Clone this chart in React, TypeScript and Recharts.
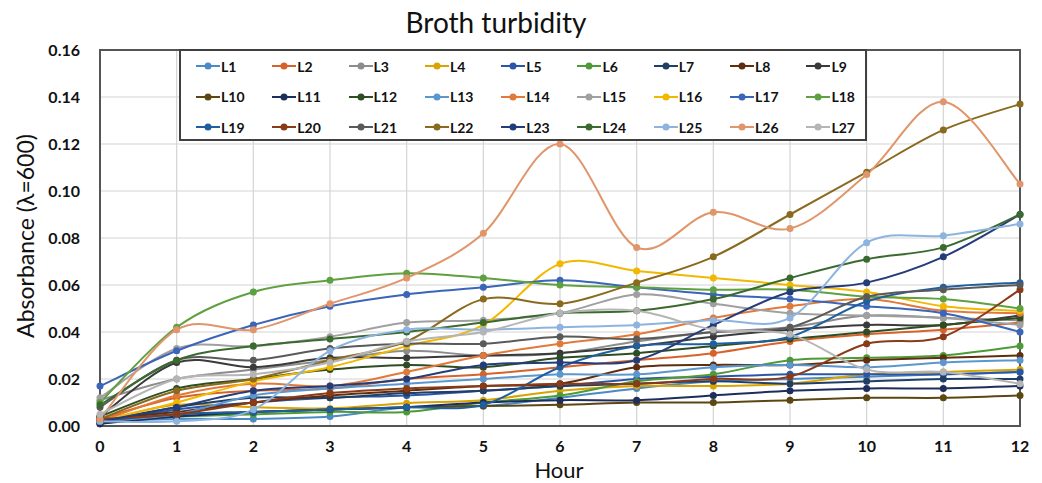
import React from 'react';
import { LineChart, Line, XAxis, YAxis, CartesianGrid, ReferenceArea } from 'recharts';

const hours = [0, 1, 2, 3, 4, 5, 6, 7, 8, 9, 10, 11, 12];
const yTicks = [0, 0.02, 0.04, 0.06, 0.08, 0.1, 0.12, 0.14, 0.16];

const L1 = [0.002, 0.003, 0.003, 0.004, 0.008, 0.0085, 0.012, 0.016, 0.019, 0.020, 0.021, 0.022, 0.023];
const L2 = [0.003, 0.012, 0.015, 0.016, 0.020, 0.022, 0.025, 0.028, 0.031, 0.036, 0.039, 0.041, 0.044];
const L3 = [0.011, 0.020, 0.024, 0.028, 0.032, 0.030, 0.031, 0.036, 0.040, 0.042, 0.047, 0.046, 0.045];
const L4 = [0.002, 0.009, 0.008, 0.0075, 0.0097, 0.011, 0.015, 0.017, 0.017, 0.018, 0.022, 0.023, 0.024];
const L5 = [0.001, 0.007, 0.010, 0.012, 0.013, 0.015, 0.017, 0.020, 0.021, 0.022, 0.022, 0.022, 0.023];
const L6 = [0.002, 0.004, 0.005, 0.006, 0.006, 0.010, 0.013, 0.019, 0.022, 0.028, 0.029, 0.030, 0.034];
const L7 = [0.002, 0.008, 0.012, 0.012, 0.014, 0.015, 0.017, 0.018, 0.019, 0.018, 0.019, 0.020, 0.020];
const L8 = [0.003, 0.006, 0.010, 0.013, 0.015, 0.017, 0.018, 0.025, 0.026, 0.026, 0.028, 0.029, 0.030];
const L9 = [0.004, 0.027, 0.025, 0.029, 0.029, 0.030, 0.031, 0.034, 0.038, 0.041, 0.043, 0.043, 0.047];
const L10 = [0.001, 0.005, 0.006, 0.007, 0.008, 0.0085, 0.009, 0.010, 0.010, 0.011, 0.012, 0.012, 0.013];
const L11 = [0.001, 0.004, 0.006, 0.007, 0.008, 0.010, 0.011, 0.011, 0.013, 0.015, 0.016, 0.016, 0.017];
const L12 = [0.004, 0.016, 0.020, 0.024, 0.026, 0.025, 0.029, 0.031, 0.034, 0.037, 0.040, 0.043, 0.046];
const L13 = [0.002, 0.005, 0.013, 0.016, 0.018, 0.020, 0.022, 0.022, 0.025, 0.026, 0.025, 0.027, 0.028];
const L14 = [0.002, 0.013, 0.018, 0.017, 0.023, 0.030, 0.035, 0.039, 0.046, 0.051, 0.054, 0.049, 0.048];
const L15 = [0.012, 0.033, 0.034, 0.038, 0.044, 0.045, 0.048, 0.056, 0.052, 0.048, 0.047, 0.046, 0.043];
const L16 = [0.002, 0.010, 0.019, 0.025, 0.034, 0.043, 0.069, 0.066, 0.063, 0.060, 0.057, 0.051, 0.049];
const L17 = [0.017, 0.032, 0.043, 0.051, 0.056, 0.059, 0.062, 0.059, 0.056, 0.054, 0.051, 0.048, 0.040];
const L18 = [0.010, 0.042, 0.057, 0.062, 0.065, 0.063, 0.060, 0.059, 0.058, 0.058, 0.055, 0.054, 0.050];
const L19 = [0.002, 0.005, 0.006, 0.007, 0.008, 0.009, 0.025, 0.034, 0.035, 0.038, 0.053, 0.059, 0.061];
const L20 = [0.003, 0.005, 0.010, 0.014, 0.016, 0.017, 0.018, 0.018, 0.020, 0.021, 0.035, 0.038, 0.058];
const L21 = [0.008, 0.028, 0.028, 0.033, 0.035, 0.035, 0.038, 0.037, 0.040, 0.042, 0.055, 0.058, 0.060];
const L22 = [0.003, 0.015, 0.020, 0.028, 0.036, 0.054, 0.052, 0.061, 0.072, 0.090, 0.108, 0.126, 0.137];
const L23 = [0.002, 0.008, 0.015, 0.017, 0.020, 0.026, 0.027, 0.028, 0.043, 0.057, 0.061, 0.072, 0.090];
const L24 = [0.009, 0.028, 0.034, 0.037, 0.040, 0.044, 0.048, 0.049, 0.054, 0.063, 0.071, 0.076, 0.090];
const L25 = [0.002, 0.002, 0.007, 0.032, 0.041, 0.041, 0.042, 0.043, 0.045, 0.046, 0.078, 0.081, 0.086];
const L26 = [0.003, 0.041, 0.041, 0.052, 0.063, 0.082, 0.120, 0.076, 0.091, 0.084, 0.107, 0.138, 0.103];
const L27 = [0.005, 0.020, 0.022, 0.027, 0.036, 0.040, 0.048, 0.049, 0.041, 0.039, 0.024, 0.023, 0.018];

const seriesNames = ['L1','L2','L3','L4','L5','L6','L7','L8','L9','L10','L11','L12','L13','L14','L15','L16','L17','L18','L19','L20','L21','L22','L23','L24','L25','L26','L27'];
const seriesValues = [L1,L2,L3,L4,L5,L6,L7,L8,L9,L10,L11,L12,L13,L14,L15,L16,L17,L18,L19,L20,L21,L22,L23,L24,L25,L26,L27];
const seriesColors = [
  '#4A8BC6', '#D9622B', '#8C8C8C', '#D9A300', '#2B56A8', '#4E9A36', '#1F3F66', '#5E2E0E', '#3A3A3A',
  '#5C4712', '#1E2E5C', '#2E4D22', '#5B97CF', '#E07A3A', '#A0A0A0', '#F2B800', '#3A65B8', '#5FA040',
  '#1F5F9E', '#8A3A16', '#5A5A5A', '#8A6A1E', '#253C7A', '#3A6A2E', '#8DB4DE', '#E0956A', '#B5B5B5',
];

const data = hours.map((h, i) => {
  const row: Record<string, number> = { hour: h };
  seriesNames.forEach((n, s) => { row[n] = seriesValues[s][i]; });
  return row;
});

// Excel-like smoothed line (Catmull-Rom / cardinal tension 0)
const excelSmooth = (context: any) => {
  let pts: number[][] = [];
  return {
    areaStart() {},
    areaEnd() {},
    lineStart() { pts = []; },
    point(x: number, y: number) { pts.push([+x, +y]); },
    lineEnd() {
      const n = pts.length;
      if (!n) return;
      context.moveTo(pts[0][0], pts[0][1]);
      for (let i = 0; i < n - 1; i++) {
        const p0 = pts[i - 1] || pts[i];
        const p1 = pts[i];
        const p2 = pts[i + 1];
        const p3 = pts[i + 2] || p2;
        context.bezierCurveTo(
          p1[0] + (p2[0] - p0[0]) / 6, p1[1] + (p2[1] - p0[1]) / 6,
          p2[0] - (p3[0] - p1[0]) / 6, p2[1] - (p3[1] - p1[1]) / 6,
          p2[0], p2[1]
        );
      }
    },
  };
};

const FONT = 'Lato, "Open Sans", sans-serif';

const LegendBox = () => (
  <div
    style={{
      position: 'absolute',
      left: 179,
      top: 49,
      boxSizing: 'border-box',
      width: 688,
      height: 92,
      border: '2px solid #404040',
      background: '#fff',
      display: 'grid',
      gridTemplateColumns: 'repeat(9, 76.3px)',
      gridTemplateRows: 'repeat(3, 30.5px)',
      padding: '0 0 0 15px',
      fontFamily: FONT,
      fontWeight: 700,
      fontSize: 14,
      color: '#111',
    }}
  >
    {seriesNames.map((n, i) => (
      <div key={n} style={{ display: 'flex', alignItems: 'center' }}>
        <svg width={24} height={10} style={{ marginRight: 1 }}>
          <line x1={0} y1={5} x2={24} y2={5} stroke={seriesColors[i]} strokeWidth={2} />
          <circle cx={12} cy={5} r={3.5} fill={seriesColors[i]} />
        </svg>
        <span>{n}</span>
      </div>
    ))}
  </div>
);

const YLabel = () => (
  <text
    x={34}
    y={236}
    transform="rotate(-90 34 236)"
    textAnchor="middle"
    style={{ fontFamily: FONT, fontSize: 23, fill: '#111' }}
  >
    Absorbance (λ=600)
  </text>
);

const XLabel = () => (
  <text
    x={559}
    y={478}
    textAnchor="middle"
    style={{ fontFamily: FONT, fontSize: 22, fill: '#111' }}
  >
    Hour
  </text>
);

export default function App() {
  return (
    <div style={{ position: 'absolute', left: 0, top: 0, width: 1042, height: 483, background: '#fff' }}>
      <LineChart
        width={1042}
        height={483}
        data={data}
        margin={{ top: 50, right: 22, bottom: 0, left: 0 }}
        style={{ position: 'absolute', left: 0, top: 0 }}
      >
        <CartesianGrid stroke="#d4d4d4" strokeWidth={1.2} verticalValues={hours} />
        <XAxis
          dataKey="hour"
          type="number"
          domain={[0, 12]}
          ticks={hours}
          interval={0}
          height={57}
          tickLine={false}
          axisLine={{ stroke: '#555', strokeWidth: 2 }}
          tickMargin={9}
          tick={{ fontFamily: FONT, fontWeight: 700, fontSize: 16, fill: '#111' }}
          label={<XLabel />}
        />
        <YAxis
          type="number"
          domain={[0, 0.16]}
          ticks={yTicks}
          interval={0}
          width={100}
          tickLine={false}
          axisLine={{ stroke: '#555', strokeWidth: 2 }}
          tickMargin={14}
          tickFormatter={(v: number) => v.toFixed(2)}
          tick={{ fontFamily: FONT, fontWeight: 700, fontSize: 16, fill: '#111' }}
          label={<YLabel />}
        />
        <ReferenceArea x1={0} x2={12} y1={0} y2={0.16} fill="none" stroke="#555" strokeWidth={2} />
        {seriesNames.map((n, i) => (
          <Line
            key={n}
            dataKey={n}
            name={n}
            type={excelSmooth as any}
            stroke={seriesColors[i]}
            strokeWidth={2}
            dot={{ r: 3.5, fill: seriesColors[i], stroke: seriesColors[i], strokeWidth: 0 }}
            activeDot={false}
            isAnimationActive={false}
          />
        ))}
      </LineChart>
      <div
        style={{
          position: 'absolute',
          left: 0,
          top: 5,
          width: 992,
          textAlign: 'center',
          fontFamily: FONT,
          fontSize: 28,
          color: '#111',
        }}
      >
        Broth turbidity
      </div>
      <LegendBox />
    </div>
  );
}
